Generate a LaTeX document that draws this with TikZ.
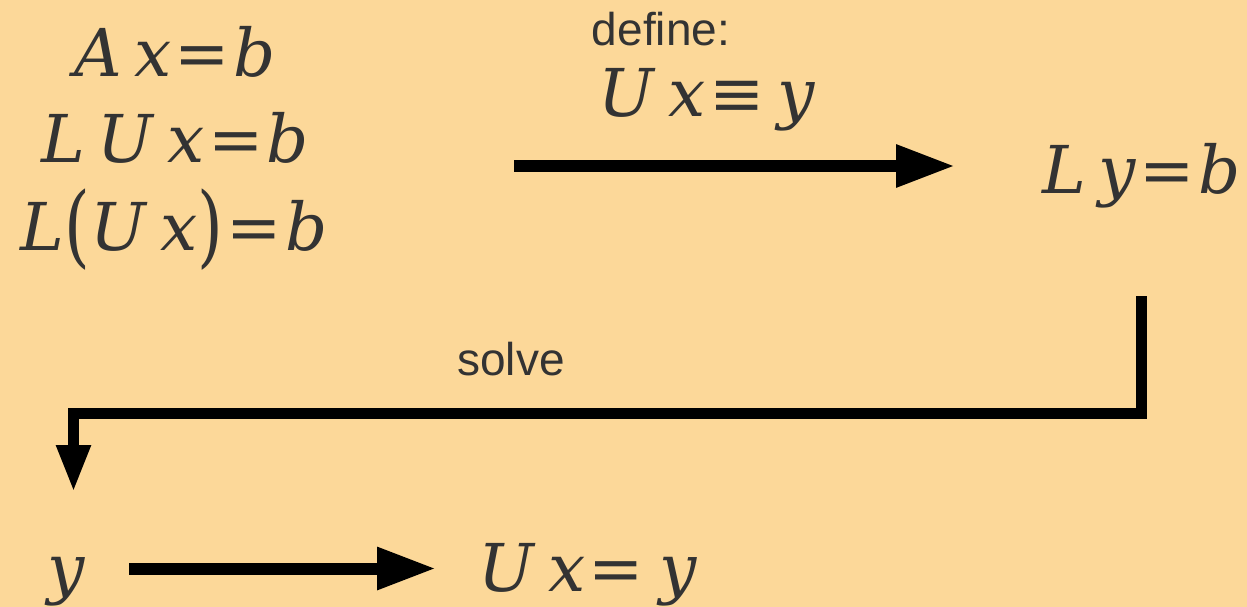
\documentclass[tikz,border=0pt]{standalone}
\usepackage{fontspec}
\setmainfont{DejaVu Serif}
\newfontfamily\lblfont{Liberation Sans}
\usetikzlibrary{arrows.meta}
\definecolor{bgorange}{HTML}{FCD899}
\definecolor{txtgrey}{HTML}{333333}
\newcommand\mv[1]{\textit{#1}}
\newcommand\sep{\hspace{0.19em}}
\newcommand\eqs{\hspace{0.05em}=\hspace{0.05em}}
\newcommand\tallp[1]{\raisebox{-6pt}{\scalebox{1}[1.35]{#1}}}

\begin{document}
\begin{tikzpicture}[x=1pt,y=-1pt,
    eqn/.style={anchor=base,inner sep=0pt,text=txtgrey,font=\fontsize{66}{66}\selectfont},
    lbl/.style={anchor=base,inner sep=0pt,text=txtgrey,font=\lblfont\fontsize{46}{46}\selectfont},
    bigarrow/.style={line width=12pt,-{Triangle[length=59pt,width=40pt]}},
    elbow/.style={line width=11pt,line join=miter,-{Triangle[length=47pt,width=32pt]}}]
    \fill[bgorange] (0,0) rectangle (1247,607);
    \useasboundingbox (0,0) rectangle (1247,607);
    % left block
    \node[eqn] (eqA) at (175,77) {\mv{A}\sep\mv{x}\eqs\mv{b}};
    \node[eqn] (eqLU) at (175,162) {\mv{L}\sep\mv{U}\sep\mv{x}\eqs\mv{b}};
    \node[eqn] (eqLUx) at (174,250) {\mv{L}\tallp{(}\mv{U}\sep\mv{x}\tallp{)}\eqs\mv{b}};
    % definition
    \node[lbl] (defTxt) at (661,46) {define:};
    \node[eqn] (defEq) at (707,117) {\mv{U}\sep\mv{x}\hspace{0.05em}≡\sep\mv{y}};
    \node[eqn] (eqLy) at (1141.5,193) {\mv{L}\sep\mv{y}\eqs\mv{b}};
    \node[lbl] (solveTxt) at (511,375) {solve};
    \node[eqn] (eqY) at (66,591) {\mv{y}};
    \node[eqn] (eqUx) at (588,591) {\mv{U}\sep\mv{x}\eqs\sep\mv{y}};
    \coordinate (defS) at (514,166);
    \coordinate (defE) at (955,166);
    \coordinate (lyOut) at (1141.5,296);
    \coordinate (bend) at (73.5,413.5);
    \coordinate (yIn) at (73.5,492);
    \coordinate (yS) at (129,568.5);
    \coordinate (yE) at (436,568.5);
    \draw[bigarrow] (defS) -- (defE);
    \draw[elbow] (lyOut) |- (bend) -- (yIn);
    \draw[bigarrow] (yS) -- (yE);
\end{tikzpicture}
\end{document}
